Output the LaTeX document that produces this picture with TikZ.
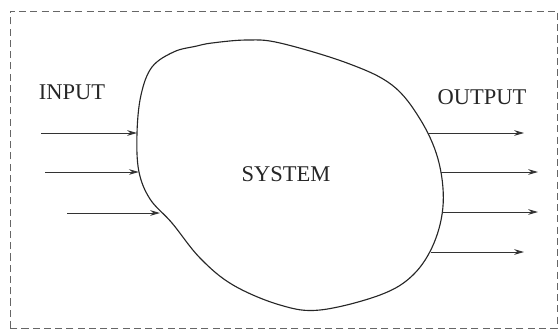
\documentclass[tikz,border=0pt]{standalone}
\usepackage{fontspec}
\setmainfont{Liberation Serif}
\usepackage{tikz}
\usetikzlibrary{arrows.meta, positioning}

\begin{document}
\begin{tikzpicture}[
			frame/.style={draw=black!60, dashed, dash pattern=on 5pt off 3pt, line width=0.6pt},
			blob/.style={draw=black!85, line width=0.8pt},
			sig/.style={-{Stealth[length=7pt, width=4pt]}, draw=black!80, line width=0.7pt},
			lbl/.style={font=\fontsize{16}{19}\selectfont, text=black!85, inner sep=0pt}
			]
			\useasboundingbox (0,0) rectangle (13.975,8.275);
			\draw[frame] (0.25,0.075) rectangle (13.925,8.0);
			
			% the system boundary
			\draw[blob] plot[smooth cycle, tension=0.6] coordinates {
				(3.425,4.95) (3.525,5.9) (3.8,6.6) (4.35,6.98) (4.9,7.12)
				(5.3,7.2) (6.175,7.275) (7.0,7.2) (8.675,6.7) (9.8,6.15)
				(10.5,5.3) (10.95,4.3) (11.08,3.2) (10.85,2.2) (10.325,1.4)
				(9.5,0.9) (8.0,0.525) (7.0,0.65) (5.825,1.15) (5.0,1.825)
				(4.3,2.7) (3.75,3.3) (3.47,4.0)};
			
			\node[lbl] (sys) at (7.15,3.92) {SYSTEM};
			\node[lbl] (inp) at (1.8,5.975) {INPUT};
			\node[lbl] (outp) at (12.05,5.85) {OUTPUT};
			
			% inputs
			\coordinate (i1) at (1.025,4.95);  \coordinate (b1) at (3.425,4.95);
			\coordinate (i2) at (1.125,3.975); \coordinate (b2) at (3.47,3.975);
			\coordinate (i3) at (1.675,2.95);  \coordinate (b3) at (4.0,2.95);
			\draw[sig] (i1) -- (b1);
			\draw[sig] (i2) -- (b2);
			\draw[sig] (i3) -- (b3);
			
			% outputs
			\coordinate (c1) at (10.7,4.95);  \coordinate (o1) at (13.1,4.95);
			\coordinate (c2) at (11.02,3.975); \coordinate (o2) at (13.45,3.975);
			\coordinate (c3) at (11.06,2.975); \coordinate (o3) at (13.45,2.975);
			\coordinate (c4) at (10.78,1.975);  \coordinate (o4) at (13.1,1.975);
			\draw[sig] (c1) -- (o1);
			\draw[sig] (c2) -- (o2);
			\draw[sig] (c3) -- (o3);
			\draw[sig] (c4) -- (o4);
		\end{tikzpicture}
\end{document}
